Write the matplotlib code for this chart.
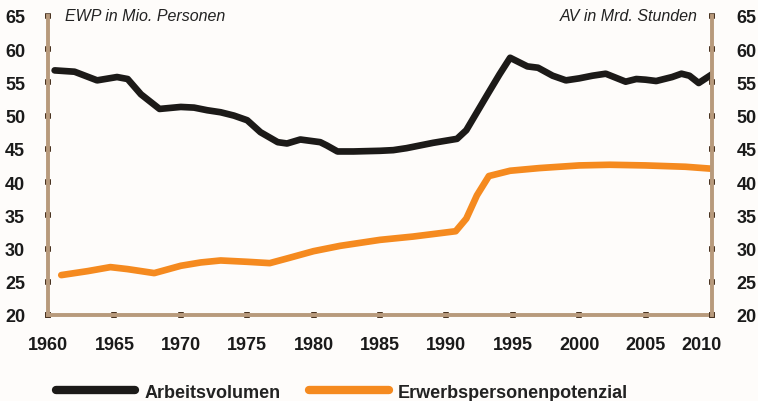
import matplotlib.pyplot as plt
import matplotlib.transforms as mtransforms
from matplotlib.lines import Line2D

plt.rcParams['font.family'] = ['Liberation Sans', 'DejaVu Sans']

# Arbeitsvolumen (Mrd. Stunden)
jahre_av = [1960.5, 1962, 1963.7, 1965.2, 1966, 1967, 1968.4, 1970, 1971, 1972, 1973,
            1974, 1975, 1976, 1977.3, 1978, 1979, 1980.5, 1981, 1981.8, 1983, 1985,
            1986, 1987, 1988, 1989, 1990.8, 1991.5, 1992.3, 1993.1, 1994, 1994.8,
            1996.1, 1996.9, 1998, 1999, 2000, 2001, 2002, 2003.5, 2004.3, 2005,
            2005.8, 2007, 2007.7, 2008.3, 2009, 2010.3]
arbeitsvolumen = [56.8, 56.6, 55.3, 55.8, 55.5, 53.2, 51.0, 51.3, 51.2, 50.8, 50.5,
                  50.0, 49.3, 47.5, 46.0, 45.8, 46.4, 46.0, 45.5, 44.6, 44.6, 44.7,
                  44.8, 45.1, 45.5, 45.9, 46.5, 47.8, 50.5, 53.2, 56.2, 58.7,
                  57.4, 57.2, 56.0, 55.3, 55.6, 56.0, 56.3, 55.1, 55.5, 55.4,
                  55.2, 55.8, 56.3, 56.0, 54.9, 56.6]

# Erwerbspersonenpotenzial (Mio. Personen)
jahre_ewp = [1961, 1963, 1964.7, 1966, 1968, 1970, 1971.5, 1973, 1975, 1976.7, 1978,
             1980, 1982, 1985, 1987.5, 1990.7, 1991.5, 1992.3, 1993.2, 1994.8, 1997,
             2000, 2002.3, 2005, 2008, 2010]
erwerbspersonen = [26.0, 26.6, 27.2, 26.9, 26.3, 27.4, 27.9, 28.2, 28.0, 27.8, 28.5,
                   29.6, 30.4, 31.3, 31.8, 32.6, 34.5, 38.0, 40.9, 41.7, 42.1,
                   42.5, 42.6, 42.5, 42.3, 42.0]

x_ticks = list(range(1960, 2011, 5))
y_ticks = list(range(20, 66, 5))

spine_col = '#b89a7c'
tick_col = '#4a3422'

fig = plt.figure(figsize=(7.58, 4.02), dpi=100)
fig.patch.set_facecolor('#fefcfa')
ax = fig.add_axes([0.0633, 0.214, 0.876, 0.744])
ax.set_facecolor('#fefcfa')

ax.plot(jahre_av, arbeitsvolumen, color='#1c1a18', lw=4.8, solid_capstyle='round',
        solid_joinstyle='round', zorder=3)
ax.plot(jahre_ewp, erwerbspersonen, color='#f58a1f', lw=4.8, solid_capstyle='round',
        solid_joinstyle='round', zorder=3)

ax.set_xlim(1960, 2010)
ax.set_ylim(20, 65)
ax.set_xticks(x_ticks)
ax.set_yticks(y_ticks)
ax.set_xticklabels([str(t) for t in x_ticks], fontsize=13, fontweight='bold', color='#1a1a1a')
ax.set_yticklabels([str(t) for t in y_ticks], fontsize=13, fontweight='bold', color='#1a1a1a')

ax2 = ax.twinx()
ax2.set_ylim(20, 65)
ax2.set_yticks(y_ticks)
ax2.set_yticklabels([str(t) for t in y_ticks], fontsize=13, fontweight='bold', color='#1a1a1a')

for a in (ax, ax2):
    for s in a.spines.values():
        s.set_visible(False)
    a.tick_params(direction='inout', length=5, width=4, color=tick_col)
ax.spines['left'].set_visible(True)
ax.spines['bottom'].set_visible(True)
ax2.spines['right'].set_visible(True)
for s in (ax.spines['left'], ax.spines['bottom'], ax2.spines['right']):
    s.set_color(spine_col)
    s.set_linewidth(2.8)
ax.tick_params(axis='y', pad=14)
ax2.tick_params(axis='y', pad=15)
ax.tick_params(axis='x', pad=13)

# letzte Jahreszahl etwas nach links, wie im Original
last = ax.get_xticklabels()[-1]
last.set_transform(last.get_transform() +
                   mtransforms.ScaledTranslation(-10 / 100, 0, fig.dpi_scale_trans))

fig.text(0.086, 0.958, 'EWP in Mio. Personen', fontsize=11.5, style='italic',
         color='#222222', va='center', ha='left')
fig.text(0.921, 0.958, 'AV in Mrd. Stunden', fontsize=11.5, style='italic',
         color='#222222', va='center', ha='right')

handles = [Line2D([], [], color='#1c1a18', lw=6, solid_capstyle='round'),
           Line2D([], [], color='#f58a1f', lw=6, solid_capstyle='round')]
leg = fig.legend(handles, ['Arbeitsvolumen', 'Erwerbspersonenpotenzial'], ncol=2,
                 loc='center left', bbox_to_anchor=(0.052, 0.022), frameon=False,
                 handlelength=4.4, handletextpad=0.5, columnspacing=1.6,
                 prop={'weight': 'bold', 'size': 13})
for t in leg.get_texts():
    t.set_color('#222222')

fig.savefig('out.png', dpi=100, facecolor=fig.get_facecolor())
